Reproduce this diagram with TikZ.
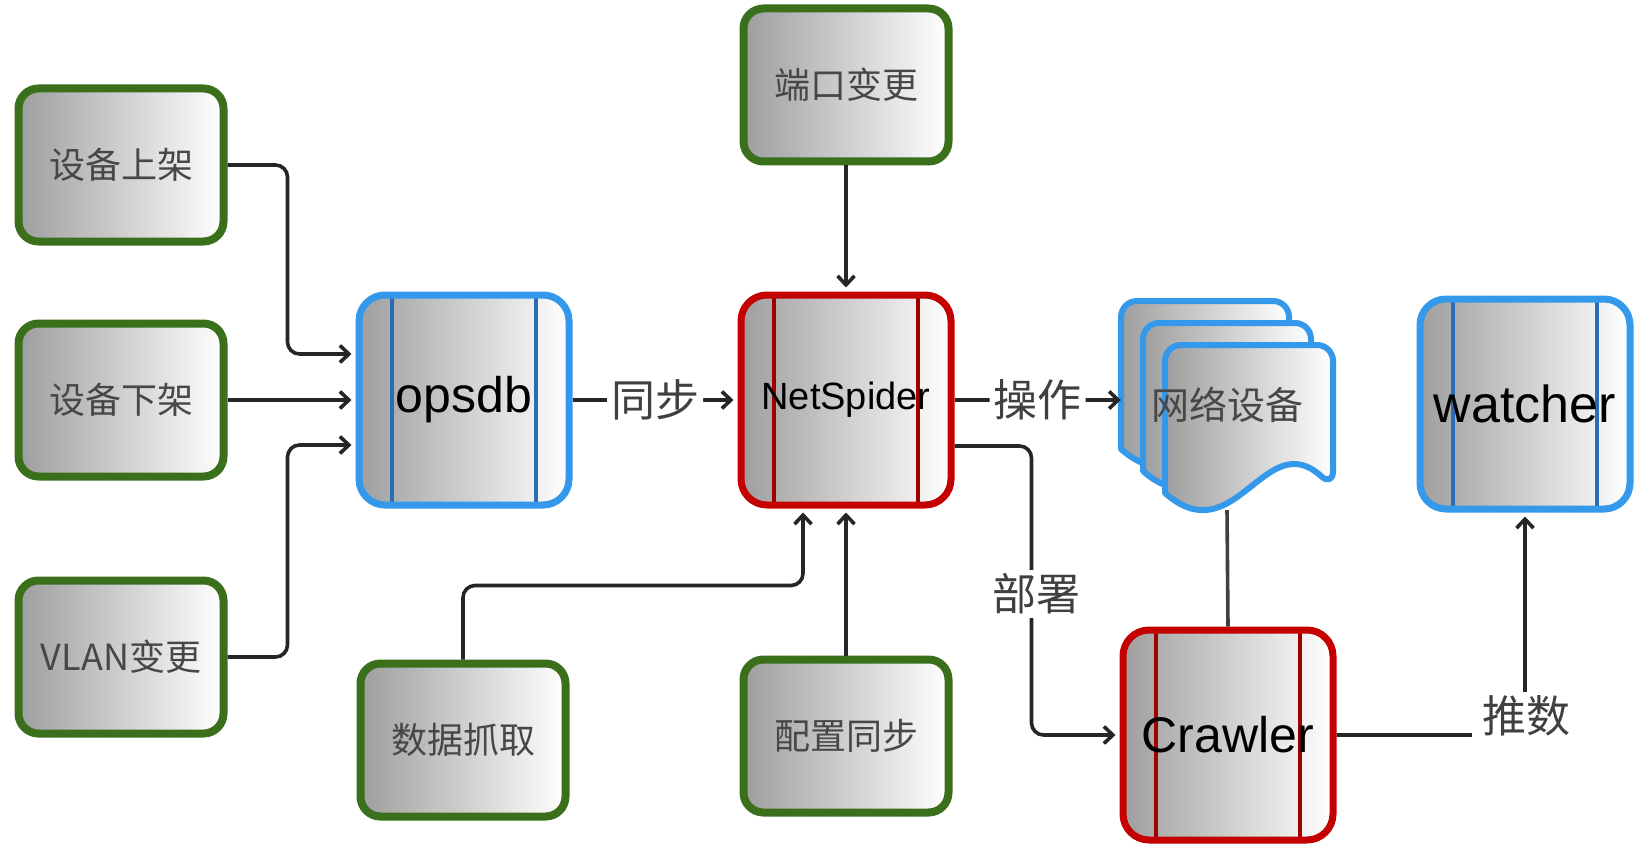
\documentclass[tikz,border=0pt]{standalone}
\usepackage{fontspec}
\setmainfont{Liberation Sans}
\newfontfamily\cjk{Noto Sans CJK SC}
\usetikzlibrary{arrows.meta,calc}
\definecolor{grn}{HTML}{3A701C}
\definecolor{blu}{HTML}{3498EB}
\definecolor{bluin}{HTML}{2A6DB5}
\definecolor{rd}{HTML}{C40000}
\definecolor{rdin}{HTML}{A00000}
\newcommand\netdoc[2]{%
  \path[draw=blu, line width=6pt, left color=black!38, right color=white, line join=round]
    (#1,{#2+148}) [rounded corners=16pt] -- (#1,#2) -- ({#1+168},#2) -- ({#1+168},{#2+142}) [sharp corners]
    .. controls ({#1+100},{#2+80}) and ({#1+70},{#2+210}) .. (#1,{#2+148}) -- cycle;}
\begin{document}
\begin{tikzpicture}[x=1pt,y=-1pt,
  base/.style={rounded corners=20pt, left color=black!38, right color=white, inner sep=0pt},
  ev/.style={base, draw=grn, line width=8pt, minimum width=205pt, minimum height=153pt,
    font=\cjk\fontsize{36}{40}\selectfont, text=black!72},
  proc/.style={base, draw=#1, line width=7pt, rounded corners=26pt, minimum width=210pt, minimum height=210pt,
    font=\fontsize{50}{56}\selectfont, text=black,
    path picture={\draw[#1in, line width=4pt]
      ([xshift=33pt]path picture bounding box.north west) -- ([xshift=33pt]path picture bounding box.south west)
      ([xshift=-33pt]path picture bounding box.north east) -- ([xshift=-33pt]path picture bounding box.south east);}},
  conn/.style={draw=black!85, line width=3.6pt, rounded corners=12pt, -{Straight Barb[length=9pt,width=17pt,line width=3.6pt]}, shorten >=4pt},
  plain/.style={draw=black!75, line width=3.6pt},
  lbl/.style={fill=white, inner sep=4pt, font=\cjk\fontsize{44}{48}\selectfont, text=black!75},
]
\useasboundingbox (0,0) rectangle (1635,845);
\fill[white] (0,0) rectangle (1635,845);

% event boxes
\node[ev] (up)   at (121,165) {设备上架};
\node[ev] (down) at (121,400) {设备下架};
\node[ev] (vlan) at (121,657) {VLAN{\cjk 变更}};
\node[ev] (port) at (846,85)  {端口变更};
\node[ev] (grab) at (463,740) {数据抓取};
\node[ev] (cfg)  at (846,736) {配置同步};

% processes
\node[proc=blu] (opsdb) at (464,400) {opsdb};
\node[proc=rd, font=\fontsize{38}{44}\selectfont] (ns) at (846,400) {NetSpider};
\node[proc=blu, font=\fontsize{52}{58}\selectfont] (watcher) at (1525,404) {watcher};
\node[proc=rd] (crawler) at (1228,735) {Crawler};

% stacked documents
\netdoc{1121}{301}
\netdoc{1143}{323}
\netdoc{1165}{345}
\node[minimum width=212pt, minimum height=210pt, inner sep=0pt, font=\cjk\fontsize{38}{40}\selectfont, text=black!72] (docs) at (1227,405) {网络设备};

% connectors
\draw[conn] (up.east) -| ([xshift=-68pt,yshift=46pt]opsdb.west) -- ([yshift=46pt]opsdb.west);
\draw[conn] (down.east) -- (opsdb.west);
\draw[conn] (vlan.east) -| ([xshift=-68pt,yshift=-45pt]opsdb.west) -- ([yshift=-45pt]opsdb.west);
\draw[conn] (opsdb.east) -- (ns.west) node[lbl, midway] {同步};
\draw[conn] (port.south) -- (ns.north);
\draw[conn] (cfg.north) -- (ns.south);
\draw[conn] (grab.north) -- ++(0,-74) -| ([xshift=-43pt]ns.south);
\draw[conn, shorten >=0pt] (ns.east) -- (ns.east -| docs.west) node[lbl, midway] {操作};
\draw[conn] ([yshift=-46pt]ns.east) -| ([xshift=-88pt]crawler.west) -- (crawler.west);
\node[lbl] (deploy) at (1036,594) {部署};
\draw[plain] (docs.south) -- (crawler.north);
\draw[conn] (crawler.east) -| (watcher.south);
\node[lbl, inner xsep=10pt] (push) at (1526,716) {推数};
\end{tikzpicture}
\end{document}
